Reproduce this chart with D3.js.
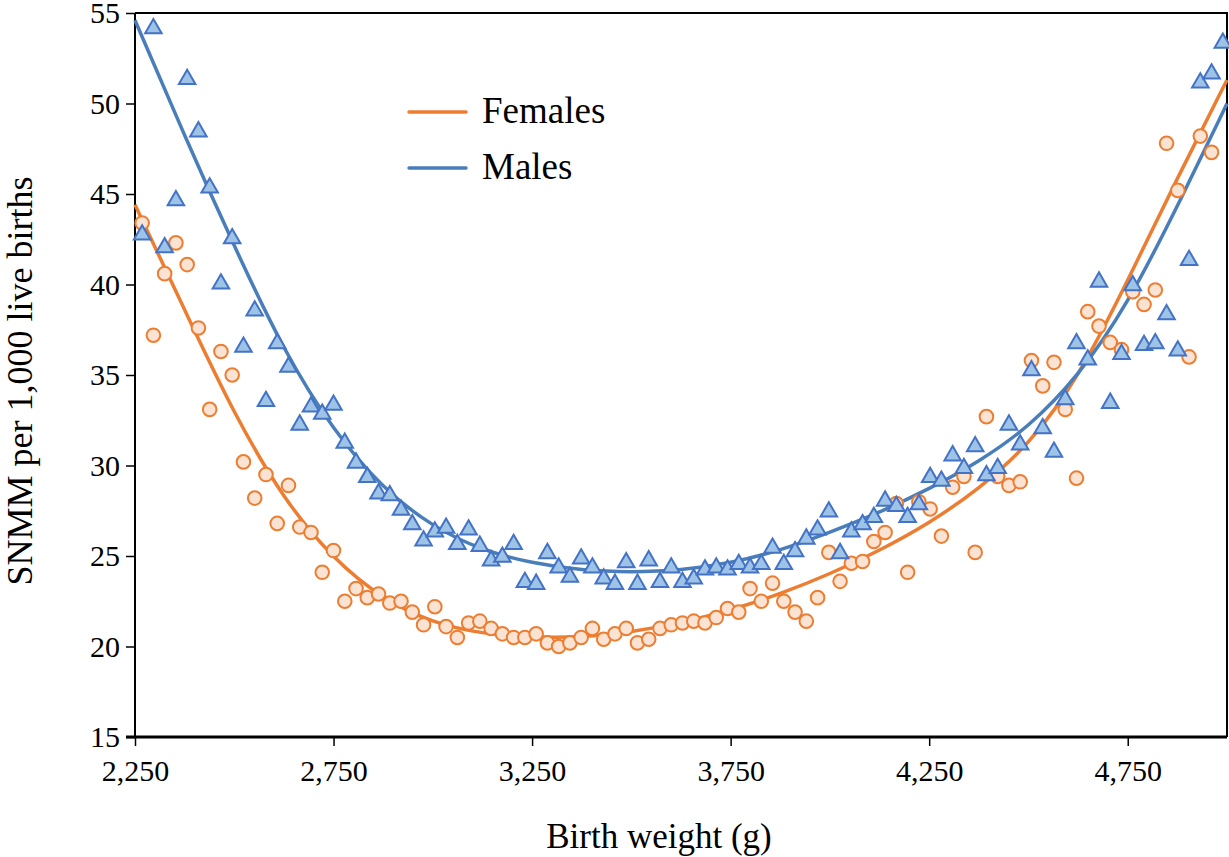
<!DOCTYPE html>
<html>
<head>
<meta charset="utf-8">
<script src="https://cdn.jsdelivr.net/npm/d3@7"></script>
<style>
  body { margin: 0; background: #fff; }
  svg { display: block; font-family: "Liberation Serif", "Times New Roman", serif; }
</style>
</head>
<body>
<svg width="1229" height="857"></svg>
<script>
// birth weight of each point, in ounces (plotted in grams)
var weightOz = [80, 81, 82, 83, 84, 85, 86, 87, 88, 89, 90, 91, 92, 93, 94, 95, 96, 97, 98, 99,
    100, 101, 102, 103, 104, 105, 106, 107, 108, 109, 110, 111, 112, 113, 114, 115, 116, 117, 118, 119,
    120, 121, 122, 123, 124, 125, 126, 127, 128, 129, 130, 131, 132, 133, 134, 135, 136, 137, 138, 139,
    140, 141, 142, 143, 144, 145, 146, 147, 148, 149, 150, 151, 152, 153, 154, 155, 156, 157, 158, 159,
    160, 161, 162, 163, 164, 165, 166, 167, 168, 169, 170, 171, 172, 173, 174, 175, 176];

var females = [43.4, 37.2, 40.6, 42.3, 41.1, 37.6, 33.1, 36.3, 35.0, 30.2, 28.2, 29.5, 26.8, 28.9, 26.6, 26.3, 24.1, 25.3, 22.5, 23.2,
    22.7, 22.9, 22.4, 22.5, 21.9, 21.2, 22.2, 21.1, 20.5, 21.3, 21.4, 21.0, 20.7, 20.5, 20.5, 20.7, 20.2, 20.0, 20.2, 20.5,
    21.0, 20.4, 20.7, 21.0, 20.2, 20.4, 21.0, 21.2, 21.3, 21.4, 21.3, 21.6, 22.1, 21.9, 23.2, 22.5, 23.5, 22.5, 21.9, 21.4,
    22.7, 25.2, 23.6, 24.6, 24.7, 25.8, 26.3, 27.9, 24.1, 28.0, 27.6, 26.1, 28.8, 29.4, 25.2, 32.7, 29.4, 28.9, 29.1, 35.8,
    34.4, 35.7, 33.1, 29.3, 38.5, 37.7, 36.8, 36.4, 39.6, 38.9, 39.7, 47.8, 45.2, 36.0, 48.2, 47.3, null];

var males = [42.8, 54.2, 42.1, 44.7, 51.4, 48.5, 45.4, 40.1, 42.6, 36.6, 38.6, 33.6, 36.8, 35.5, 32.3, 33.3, 32.9, 33.4, 31.3, 30.2,
    29.4, 28.5, 28.4, 27.6, 26.8, 25.9, 26.4, 26.6, 25.7, 26.5, 25.6, 24.8, 25.0, 25.7, 23.6, 23.5, 25.2, 24.4, 23.9, 24.9,
    24.4, 23.8, 23.5, 24.7, 23.5, 24.8, 23.6, 24.4, 23.6, 23.8, 24.3, 24.4, 24.3, 24.6, 24.4, 24.6, 25.5, 24.6, 25.3, 26.0,
    26.5, 27.5, 25.2, 26.4, 26.8, 27.2, 28.1, 27.8, 27.2, 27.9, 29.4, 29.2, 30.6, 29.9, 31.1, 29.5, 29.9, 32.3, 31.2, 35.3,
    32.1, 30.8, 33.7, 36.8, 35.9, 40.2, 33.5, 36.2, 40.0, 36.7, 36.8, 38.4, 36.4, 41.4, 51.2, 51.7, 53.4];

// trendlines (grams)
var trendWeight = [2250, 2375, 2500, 2625, 2750, 2875, 3000, 3125, 3250, 3375, 3500, 3625,
    3750, 3875, 4000, 4125, 4250, 4375, 4500, 4625, 4750, 4875, 5000];
var femaleTrend = [44.4, 38.6, 32.8, 28.1, 24.8, 22.6, 21.3, 20.7, 20.5, 20.5, 20.8, 21.3,
    22.0, 22.9, 24.0, 25.3, 26.8, 28.7, 31.1, 34.8, 40.2, 45.9, 51.3];
var maleTrend = [54.6, 48.2, 42.1, 36.3, 31.9, 28.7, 26.6, 25.3, 24.6, 24.2, 24.1, 24.2,
    24.6, 25.3, 26.3, 27.4, 28.7, 30.2, 32.1, 34.9, 38.9, 44.3, 50.0];

var xTicks = [2250, 2750, 3250, 3750, 4250, 4750];
var yTicks = [15, 20, 25, 30, 35, 40, 45, 50, 55];

var GRAMS_PER_OZ = 28.3495;

var svg = d3.select("svg");

// plot area edges
var plotLeft = 135, plotRight = 1227, plotTop = 13, plotBottom = 737;

var x = d3.scaleLinear().domain([2250, 5000]).range([plotLeft, plotRight]);
var y = d3.scaleLinear().domain([15, 55]).range([plotBottom, plotTop]);

var orange = "#ED7D31", blue = "#4A7EBB";

// plot frame (top and right)
svg.append("path")
    .attr("d", "M" + plotLeft + "," + plotTop + "H" + plotRight + "V" + plotBottom)
    .attr("fill", "none")
    .attr("stroke", "#000")
    .attr("stroke-width", 2);

// axes
var xAxis = svg.append("g")
    .attr("transform", "translate(0," + plotBottom + ")")
    .call(d3.axisBottom(x).tickValues(xTicks).tickFormat(d3.format(",")).tickSize(9).tickPadding(14));
var yAxis = svg.append("g")
    .attr("transform", "translate(" + plotLeft + ",0)")
    .call(d3.axisLeft(y).tickValues(yTicks).tickSize(9).tickPadding(6));

xAxis.select(".domain").attr("stroke-width", 3).attr("d", "M" + (plotLeft - 9) + ",0H" + plotRight);
yAxis.select(".domain").attr("stroke-width", 2).attr("d", "M0," + plotTop + "V" + plotBottom);
svg.selectAll(".tick line").attr("stroke-width", 1.5);
svg.selectAll(".tick text")
    .attr("font-family", "Liberation Serif, Times New Roman, serif")
    .attr("font-size", 30)
    .attr("fill", "#000");

// trendlines
var line = d3.line()
    .x(d => x(d[0]))
    .y(d => y(d[1]))
    .curve(d3.curveBasis);

var g = svg.append("g");

g.append("path")
    .datum(trendWeight.map((w, i) => [w, femaleTrend[i]]))
    .attr("d", line)
    .attr("fill", "none")
    .attr("stroke", orange)
    .attr("stroke-width", 3.5);

g.append("path")
    .datum(trendWeight.map((w, i) => [w, maleTrend[i]]))
    .attr("d", line)
    .attr("fill", "none")
    .attr("stroke", blue)
    .attr("stroke-width", 3.5);

// markers
var femalePts = weightOz.map((oz, i) => ({ w: oz * GRAMS_PER_OZ, v: females[i] })).filter(d => d.v != null);
var malePts = weightOz.map((oz, i) => ({ w: oz * GRAMS_PER_OZ, v: males[i] }));

g.append("g").selectAll("circle")
    .data(femalePts)
    .enter().append("circle")
    .attr("cx", d => x(d.w))
    .attr("cy", d => y(d.v))
    .attr("r", 6.8)
    .attr("fill", "#FBE3D4")
    .attr("stroke", orange)
    .attr("stroke-width", 2);

var tri = d3.symbol().type(d3.symbolTriangle).size(118);

g.append("g").selectAll("path")
    .data(malePts)
    .enter().append("path")
    .attr("d", tri)
    .attr("transform", d => "translate(" + x(d.w) + "," + (y(d.v) + 1) + ")")
    .attr("fill", "#9DC3E6")
    .attr("stroke", "#4472C4")
    .attr("stroke-width", 2)
    .attr("stroke-linejoin", "miter");

// legend
var legend = [{ name: "Females", color: orange, y: 112 }, { name: "Males", color: blue, y: 168 }];
var lg = svg.append("g");
lg.selectAll("line")
    .data(legend)
    .enter().append("line")
    .attr("x1", 409).attr("x2", 466)
    .attr("y1", d => d.y).attr("y2", d => d.y)
    .attr("stroke", d => d.color)
    .attr("stroke-width", 3.5)
    .attr("stroke-linecap", "round");
lg.selectAll("text")
    .data(legend)
    .enter().append("text")
    .attr("x", 482)
    .attr("y", d => d.y + 11)
    .attr("font-size", 37)
    .attr("fill", "#000")
    .text(d => d.name);

// axis titles
svg.append("text")
    .attr("x", 659)
    .attr("y", 848)
    .attr("text-anchor", "middle")
    .attr("font-size", 35)
    .text("Birth weight (g)");

svg.append("text")
    .attr("transform", "translate(32,381) rotate(-90)")
    .attr("text-anchor", "middle")
    .attr("font-size", 36)
    .text("SNMM per 1,000 live births");
</script>
</body>
</html>
